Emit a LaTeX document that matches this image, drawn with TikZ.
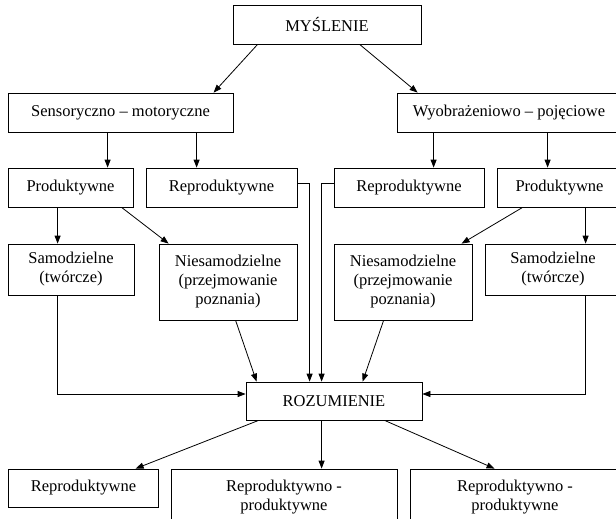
\documentclass[tikz,border=0pt]{standalone}
\usepackage{fontspec}
\setmainfont{Liberation Serif}
\newfontfamily\tnrfont{Liberation Serif}
\usetikzlibrary{arrows.meta}
\begin{document}
\begin{tikzpicture}[x=1pt,y=-1pt,
  box/.style={draw, line width=0.8pt, inner sep=0pt, align=center,
    font=\tnrfont\fontsize{16.5}{19}\selectfont},
  arr/.style={draw, line width=0.8pt, -{Triangle[length=8pt,width=6pt]}},
  ln/.style={draw, line width=0.8pt}]
\useasboundingbox (0,0) rectangle (616,519);
\clip (0,0) rectangle (616,519);
\fill[white] (0,0) rectangle (616,519);
% nodes
\node[box, minimum width=188pt, minimum height=39pt] (mysl) at (327,24.5) {MYŚLENIE};
\node[box, minimum width=225pt, minimum height=39pt] (sens) at (120.5,112.5) {Sensoryczno – motoryczne};
\node[box, minimum width=224pt, minimum height=39pt] (wyob) at (509,112.5) {Wyobrażeniowo – pojęciowe};
\node[box, minimum width=125pt, minimum height=39pt] (prodL) at (70.5,187.5) {Produktywne};
\node[box, minimum width=151pt, minimum height=39pt] (repL) at (221.5,187.5) {Reproduktywne};
\node[box, minimum width=150pt, minimum height=39pt] (repR) at (409,187.5) {Reproduktywne};
\node[box, minimum width=125pt, minimum height=39pt] (prodR) at (559.5,187.5) {Produktywne};
\node[box, minimum width=126pt, minimum height=51pt] (samL) at (71,269.5) {Samodzielne\\(twórcze)};
\node[box, minimum width=138pt, minimum height=76pt] (niesL) at (228,282) {Niesamodzielne\\(przejmowanie\\poznania)};
\node[box, minimum width=138pt, minimum height=76pt] (niesR) at (403,282) {Niesamodzielne\\(przejmowanie\\poznania)};
\node[box, minimum width=136pt, minimum height=51pt] (samR) at (553,269.5) {Samodzielne\\(twórcze)};
\node[box, minimum width=176pt, minimum height=38pt] (roz) at (334,401) {ROZUMIENIE};
\node[box, minimum width=150pt, minimum height=38pt] (botL) at (83.5,488) {Reproduktywne};
\node[box, minimum width=226pt, minimum height=56pt] (botM) at (284,497) {Reproduktywno -\\produktywne};
\node[box, minimum width=210pt, minimum height=56pt] (botR) at (515,497) {Reproduktywno -\\produktywne};
% connectors
\draw[arr] ([xshift=25pt]mysl.south west) -- ([xshift=206pt]sens.north west);
\draw[arr] ([xshift=127pt]mysl.south west) -- ([xshift=21pt]wyob.north west);
\coordinate (a1) at ([xshift=100pt]prodL.north west);
\draw[arr] (a1 |- sens.south) -- (a1);
\coordinate (a2) at ([xshift=51pt]repL.north west);
\draw[arr] (a2 |- sens.south) -- (a2);
\coordinate (a3) at ([xshift=100pt]repR.north west);
\draw[arr] (a3 |- wyob.south) -- (a3);
\coordinate (a4) at ([xshift=51pt]prodR.north west);
\draw[arr] (a4 |- wyob.south) -- (a4);
\coordinate (a5) at ([xshift=50pt]samL.north west);
\draw[arr] (a5 |- prodL.south) -- (a5);
\draw[arr] ([xshift=114pt]prodL.south west) -- ([xshift=10pt]niesL.north west);
\draw[arr] ([xshift=26pt]prodR.south west) -- ([xshift=128pt]niesR.north west);
\coordinate (a6) at ([xshift=101pt]samR.north west);
\draw[arr] (a6 |- prodR.south) -- (a6);
\draw[arr] ([xshift=50pt]samL.south west) |- ([yshift=7pt]roz.west);
\draw[arr] ([xshift=101pt]samR.south west) |- ([yshift=7pt]roz.east);
\draw[arr] ([xshift=77pt]niesL.south west) -- ([xshift=11pt]roz.north west);
\draw[arr] ([xshift=50pt]niesR.south west) -- ([xshift=117pt]roz.north west);
\draw[arr] ([yshift=4.5pt]repL.east) -| ([xshift=64pt]roz.north west);
\draw[arr] ([yshift=4.5pt]repR.west) -| ([xshift=76pt]roz.north west);
\draw[arr] ([xshift=13pt]roz.south west) -- ([xshift=127.5pt]botL.north west);
\coordinate (a7) at ([xshift=76pt]roz.south west);
\draw[arr] (a7) -- (a7 |- botM.north);
\draw[arr] ([xshift=139pt]roz.south west) -- ([xshift=85pt]botR.north west);
\end{tikzpicture}
\end{document}
